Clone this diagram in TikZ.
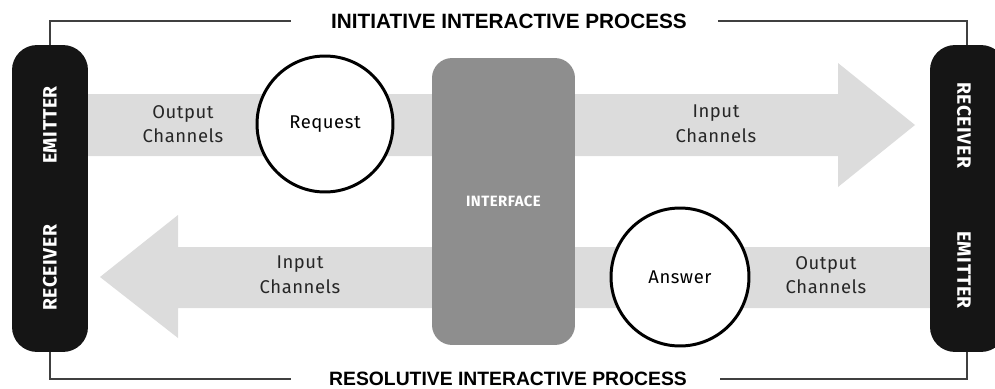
\documentclass[tikz,border=0pt]{standalone}
\usepackage{fontspec}
\setmainfont{Fira Sans}
\newfontfamily\titlefont{Liberation Sans}
\newfontfamily\lblfont[LetterSpace=3]{Fira Sans}
\usetikzlibrary{positioning}
\definecolor{bandgray}{HTML}{DCDCDC}
\definecolor{facegray}{HTML}{8E8E8E}
\definecolor{barblack}{HTML}{151515}
\tikzset{
    bar/.style={fill=barblack, rounded corners=0.5cm, minimum width=1.52cm, minimum height=6.14cm},
    bartext/.style={text=white, font=\lblfont\bfseries\fontsize{11}{13}\selectfont},
    ring/.style={circle, draw=black, line width=1.7pt, fill=white, font=\lblfont\fontsize{10.5}{12}\selectfont},
    chan/.style={align=center, font=\lblfont\fontsize{10.5}{14}\selectfont, text=black!85},
    proc/.style={font=\titlefont\bfseries\fontsize{11.8}{13}\selectfont},
    link/.style={draw=black!75, line width=0.8pt}
}
\begin{document}
\begin{tikzpicture}[x=0.02cm, y=-0.02cm]
    \useasboundingbox (0,0) rectangle (995,389);
    % channels
    \fill[bandgray] (88,94) -- (838,94) -- (838,63) -- (915,125) -- (838,187) -- (838,156) -- (88,156) -- cycle;
    \fill[bandgray] (930,247) -- (178,247) -- (178,215) -- (100,277) -- (178,338) -- (178,308) -- (930,308) -- cycle;
    \node[fill=facegray, rounded corners=0.4cm, minimum width=2.86cm, minimum height=5.74cm] (iface) at (503.5,201.5) {};
    \node[text=white, font=\lblfont\bfseries\fontsize{8.5}{10}\selectfont] (ifacetxt) at (iface.center) {INTERFACE};
    \node[ring, minimum size=2.72cm] (request) at (325,124) {Request};
    \node[ring, minimum size=2.76cm] (answer) at (680,277) {Answer};
    \node[chan] (outtop) at (183,124) {Output\\Channels};
    \node[chan] (intop) at (716,124) {Input\\Channels};
    \node[chan] (inbot) at (300,275) {Input\\Channels};
    \node[chan] (outbot) at (826,275) {Output\\Channels};
    % emitters and receivers
    \node[bar] (lbar) at (50,198.5) {};
    \node[bar] (rbar) at (968,198.5) {};
    \node[bartext, rotate=90] (lemit) at (50,125) {EMITTER};
    \node[bartext, rotate=90] (lrec) at (50,268) {RECEIVER};
    \node[bartext, rotate=-90] (rrec) at (964,125) {RECEIVER};
    \node[bartext, rotate=-90] (remit) at (964,270) {EMITTER};
    % processes
    \node[proc] (initproc) at (509,21) {INITIATIVE INTERACTIVE PROCESS};
    \node[proc, font=\titlefont\bfseries\fontsize{11}{13}\selectfont] (resproc) at (508,379) {RESOLUTIVE INTERACTIVE PROCESS};
    \draw[link] (lbar.north -| lemit) |- ([xshift=-0.68cm]initproc.west);
    \draw[link] ([xshift=0.5cm]initproc.east) -| (rbar.north -| 967,0);
    \draw[link] (lbar.south -| lrec) |- ([xshift=-0.65cm]resproc.west);
    \draw[link] ([xshift=0.55cm]resproc.east) -| (rbar.south -| 967,0);
\end{tikzpicture}
\end{document}
